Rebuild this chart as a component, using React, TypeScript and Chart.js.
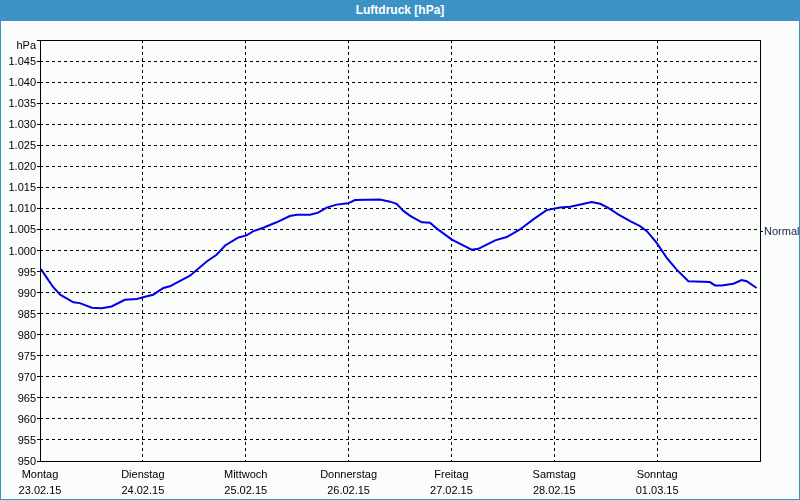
import React, { useEffect, useRef } from "react";
import { Chart, registerables } from "chart.js";

Chart.register(...registerables);

// Hours since Monday 23.02.15 00:00
const hours = [
  0.2, 1.6, 3.0, 4.7, 7.8, 9.3, 12.1, 14.4, 16.7, 19.8, 22.6, 24.5, 26.4, 28.8, 30.3, 35.0,
  38.9, 41.2, 43.2, 46.3, 48.2, 49.8, 52.1, 55.2, 58.3, 59.9, 63.0, 64.9, 66.9, 69.2, 71.9,
  73.5, 79.3, 81.7, 83.2, 84.8, 86.3, 87.1, 89.1, 91.0, 92.6, 96.1, 99.2, 100.7, 102.3,
  106.2, 108.9, 112.0, 115.1, 118.2, 121.3, 123.7, 126.4, 128.7, 130.7, 132.6, 134.9,
  137.7, 140.0, 141.6, 143.9, 146.2, 148.5, 151.3, 156.3, 157.5, 159.1, 161.8, 163.7,
  164.9, 167.2,
];
// Luftdruck in hPa
const pressure = [
  995.6, 993.5, 991.4, 989.5, 987.7, 987.5, 986.4, 986.3, 986.7, 988.3, 988.5, 989.0,
  989.5, 991.1, 991.5, 994.0, 997.4, 999.0, 1001.2, 1003.1, 1003.6, 1004.6, 1005.4,
  1006.7, 1008.2, 1008.5, 1008.5, 1009.0, 1010.2, 1010.9, 1011.2, 1012.0, 1012.1,
  1011.6, 1011.1, 1009.4, 1008.3, 1007.8, 1006.7, 1006.6, 1005.2, 1002.6, 1001.0,
  1000.2, 1000.4, 1002.4, 1003.2, 1005.0, 1007.4, 1009.6, 1010.2, 1010.4, 1011.0,
  1011.5, 1011.1, 1010.1, 1008.6, 1007.0, 1005.8, 1004.6, 1001.8, 998.3, 995.5, 992.7,
  992.5, 991.7, 991.7, 992.1, 993.0, 992.7, 991.1,
];
const dayNames = ["Montag", "Dienstag", "Mittwoch", "Donnerstag", "Freitag", "Samstag", "Sonntag"];
const dayDates = ["23.02.15", "24.02.15", "25.02.15", "26.02.15", "27.02.15", "28.02.15", "01.03.15"];
const dayTickHours = [0, 24, 48, 72, 96, 120, 144];
const yMin = 950;
const yMax = 1050;
const yStep = 5;
const unitLabel = "hPa";
const normalValue = 1004.4;
const normalLabel = "Normal";
const titleText = "Luftdruck [hPa]";

const FONT = "'Liberation Sans', Arial, sans-serif";
const BLUE = "#3c92c4";

function formatHpa(v: number): string | string[] {
  if (v >= yMax) return ["", unitLabel];
  if (v >= 1000) {
    const s = String(Math.round(v));
    return s.slice(0, s.length - 3) + "." + s.slice(s.length - 3);
  }
  return String(Math.round(v));
}

const framePlugin = {
  id: "frame",
  afterDatasetsDraw(chart: any) {
    const { ctx, chartArea } = chart;
    ctx.save();
    ctx.strokeStyle = "#000";
    ctx.lineWidth = 1;
    ctx.setLineDash([]);
    ctx.strokeRect(
      Math.round(chartArea.left) + 0.5,
      Math.round(chartArea.top) + 0.5,
      Math.round(chartArea.right - chartArea.left),
      Math.round(chartArea.bottom - chartArea.top)
    );
    ctx.restore();
  },
};

export default function App() {
  const ref = useRef<HTMLCanvasElement | null>(null);

  useEffect(() => {
    document.body.style.margin = "0";
    if (!ref.current) return;
    const chart = new Chart(ref.current, {
      type: "line",
      data: {
        datasets: [
          {
            data: hours.map((h, i) => ({ x: h, y: pressure[i] })),
            borderColor: "#0000e6",
            borderWidth: 2,
            pointRadius: 0,
            tension: 0,
            fill: false,
          },
        ],
      },
      options: {
        responsive: false,
        animation: false,
        devicePixelRatio: 1,
        layout: { padding: { top: 19, left: 0, right: 0, bottom: 0 } },
        plugins: { legend: { display: false }, tooltip: { enabled: false }, title: { display: false } },
        scales: {
          x: {
            type: "linear",
            min: 0,
            max: 168,
            afterBuildTicks: (axis: any) => {
              axis.ticks = dayTickHours.map((v) => ({ value: v }));
            },
            afterFit: (axis: any) => {
              axis.height = 38;
            },
            grid: { color: "#000", lineWidth: 1, drawTicks: false },
            border: { display: false, dash: [3, 3] },
            ticks: {
              color: "#000",
              font: { family: FONT, size: 11, lineHeight: "16px" },
              padding: 6,
              maxRotation: 0,
              autoSkip: false,
              callback: (v: any) => {
                const i = dayTickHours.indexOf(Number(v));
                return i >= 0 ? [dayNames[i], dayDates[i]] : "";
              },
            },
          },
          y: {
            position: "left",
            min: yMin,
            max: yMax,
            afterFit: (axis: any) => {
              axis.width = 39;
            },
            grid: { color: "#000", lineWidth: 1, drawTicks: true, tickLength: 3, tickColor: "#000", tickBorderDash: [] },
            border: { display: false, dash: [3, 3] },
            ticks: {
              stepSize: yStep,
              color: "#000",
              padding: 1,
              labelOffset: 1,
              autoSkip: false,
              font: { family: FONT, size: 11, lineHeight: "10px" },
              callback: (v: any) => formatHpa(Number(v)),
            },
          },
          y2: {
            position: "right",
            min: yMin,
            max: yMax,
            afterBuildTicks: (axis: any) => {
              axis.ticks = [{ value: normalValue }];
            },
            afterFit: (axis: any) => {
              axis.width = 39;
            },
            grid: { drawOnChartArea: false, drawTicks: true, tickLength: 3, tickColor: "#000", color: "#000" },
            border: { display: false },
            ticks: {
              color: "#1a2050",
              padding: 1,
              font: { family: FONT, size: 11 },
              autoSkip: false,
              callback: () => normalLabel,
            },
          },
        },
      },
      plugins: [framePlugin],
    } as any);
    return () => chart.destroy();
  }, []);

  return (
    <div
      style={{
        width: 800,
        height: 500,
        boxSizing: "border-box",
        border: `1px solid ${BLUE}`,
        background: "#fbfdfb",
        overflow: "hidden",
      }}
    >
      <div
        style={{
          height: 20,
          background: BLUE,
          color: "#fff",
          fontFamily: FONT,
          fontWeight: "bold",
          fontSize: 12,
          lineHeight: "19px",
          textAlign: "center",
        }}
      >
        {titleText}
      </div>
      <canvas ref={ref} width={798} height={478} style={{ display: "block" }} />
    </div>
  );
}
